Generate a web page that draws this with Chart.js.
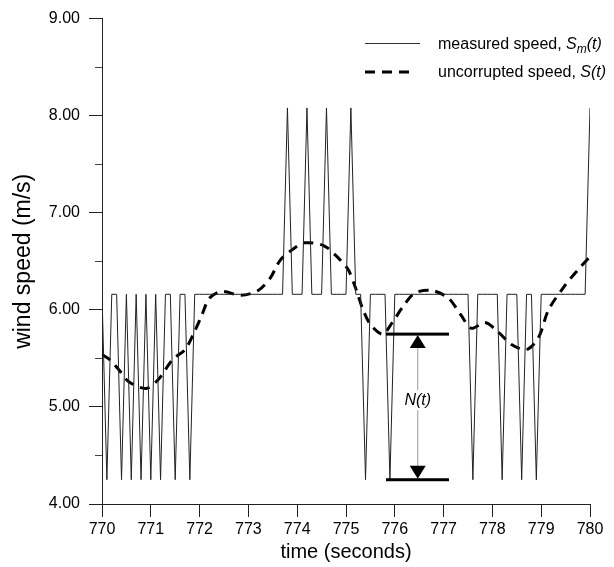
<!DOCTYPE html>
<html>

<head>
    <meta charset='utf-8'>
    <title>measured vs uncorrupted wind speed</title>
    <script src="https://cdn.jsdelivr.net/npm/chart.js@4.4.1/dist/chart.umd.min.js"></script>
    <style>
        body { margin: 0; background: #fff; }
    </style>
</head>

<body>
    <canvas id="myChart" width="614" height="567"></canvas>
    <script>
        // sample times (s), 0.1 s apart
        const times = [
            770.0, 770.1, 770.2, 770.3, 770.4, 770.5, 770.6, 770.7, 770.8, 770.9,
            771.0, 771.1, 771.2, 771.3, 771.4, 771.5, 771.6, 771.7, 771.8, 771.9,
            772.0, 772.1, 772.2, 772.3, 772.4, 772.5, 772.6, 772.7, 772.8, 772.9,
            773.0, 773.1, 773.2, 773.3, 773.4, 773.5, 773.6, 773.7, 773.8, 773.9,
            774.0, 774.1, 774.2, 774.3, 774.4, 774.5, 774.6, 774.7, 774.8, 774.9,
            775.0, 775.1, 775.2, 775.3, 775.4, 775.5, 775.6, 775.7, 775.8, 775.9,
            776.0, 776.1, 776.2, 776.3, 776.4, 776.5, 776.6, 776.7, 776.8, 776.9,
            777.0, 777.1, 777.2, 777.3, 777.4, 777.5, 777.6, 777.7, 777.8, 777.9,
            778.0, 778.1, 778.2, 778.3, 778.4, 778.5, 778.6, 778.7, 778.8, 778.9,
            779.0, 779.1, 779.2, 779.3, 779.4, 779.5, 779.6, 779.7, 779.8, 779.9,
            780.0
        ];
        // measured speed S_m(t), m/s
        const measuredSpeed = [
            6.16, 4.25, 6.16, 6.16, 4.25, 6.16, 4.25, 6.16, 4.25, 6.16,
            4.25, 6.16, 4.25, 6.16, 6.16, 4.25, 6.16, 6.16, 4.25, 6.16,
            6.16, 6.16, 6.16, 6.16, 6.16, 6.16, 6.16, 6.16, 6.16, 6.16,
            6.16, 6.16, 6.16, 6.16, 6.16, 6.16, 6.16, 6.16, 8.08, 6.16,
            6.16, 6.16, 8.08, 6.16, 6.16, 6.16, 8.08, 6.16, 6.16, 6.16,
            6.16, 8.08, 6.16, 6.16, 4.25, 6.16, 6.16, 6.16, 6.16, 4.25,
            6.16, 6.16, 6.16, 6.16, 6.16, 6.16, 6.16, 6.16, 6.16, 6.16,
            6.16, 6.16, 6.16, 6.16, 6.16, 6.16, 4.25, 6.16, 6.16, 6.16,
            6.16, 6.16, 4.25, 6.16, 6.16, 6.16, 4.25, 6.16, 6.16, 4.25,
            6.16, 6.16, 6.16, 6.16, 6.16, 6.16, 6.16, 6.16, 6.16, 6.16,
            8.08
        ];
        // uncorrupted speed S(t)
        const trueTimes = [
            770.0, 770.15, 770.35, 770.55, 770.9, 771.15, 771.45, 771.7, 771.9, 772.05,
            772.2, 772.45, 772.85, 773.2, 773.45, 773.65, 773.9, 774.15, 774.55, 774.85,
            775.05, 775.2, 775.35, 775.5, 775.75, 775.95, 776.15, 776.4, 776.75, 777.1,
            777.35, 777.57, 777.85, 778.1, 778.4, 778.7, 778.95, 779.15, 779.5, 779.75,
            780.0
        ];
        const trueSpeed = [
            5.54, 5.49, 5.38, 5.26, 5.19, 5.28, 5.49, 5.59, 5.78, 5.95,
            6.12, 6.19, 6.15, 6.20, 6.33, 6.51, 6.62, 6.69, 6.66, 6.53,
            6.41, 6.22, 6.00, 5.85, 5.75, 5.87, 6.02, 6.17, 6.20, 6.12,
            5.95, 5.81, 5.87, 5.78, 5.64, 5.59, 5.72, 6.00, 6.26, 6.41,
            6.55
        ];
        const minorYTicks = [4.5, 5.5, 6.5, 7.5, 8.5];

        // N(t) marker: bar span in time, levels in m/s
        const noiseSpan = [775.82, 777.11];
        const noiseLevels = [5.75, 4.25];
        const noiseArrowAt = 776.47;
        const noiseLabelAt = 5.07;

        const FONT = '"Liberation Sans", Arial, sans-serif';

        const extras = {
            id: 'extras',
            afterDraw(chart) {
                const { ctx, scales: { x, y } } = chart;
                ctx.save();

                // short minor ticks on the y axis
                ctx.strokeStyle = '#444';
                ctx.lineWidth = 1;
                minorYTicks.forEach(v => {
                    const py = Math.round(y.getPixelForValue(v)) + 0.5;
                    ctx.beginPath();
                    ctx.moveTo(x.left - 7, py);
                    ctx.lineTo(x.left, py);
                    ctx.stroke();
                });

                // N(t) bars and arrow
                const l = x.getPixelForValue(noiseSpan[0]);
                const r = x.getPixelForValue(noiseSpan[1]);
                const top = y.getPixelForValue(noiseLevels[0]);
                const bot = y.getPixelForValue(noiseLevels[1]);
                const ax = x.getPixelForValue(noiseArrowAt);
                ctx.strokeStyle = '#999';
                ctx.beginPath();
                ctx.moveTo(ax, top + 12);
                ctx.lineTo(ax, bot - 12);
                ctx.stroke();
                ctx.fillStyle = '#000';
                ctx.fillRect(l, top - 1.5, r - l, 3);
                ctx.fillRect(l, bot - 1.5, r - l, 3);
                ctx.beginPath();
                ctx.moveTo(ax, top + 1);
                ctx.lineTo(ax - 8, top + 14);
                ctx.lineTo(ax + 8, top + 14);
                ctx.closePath();
                ctx.fill();
                ctx.beginPath();
                ctx.moveTo(ax, bot - 1);
                ctx.lineTo(ax - 8, bot - 14);
                ctx.lineTo(ax + 8, bot - 14);
                ctx.closePath();
                ctx.fill();

                const ly = y.getPixelForValue(noiseLabelAt);
                ctx.font = 'italic 16px ' + FONT;
                ctx.textAlign = 'center';
                ctx.textBaseline = 'middle';
                const tw = ctx.measureText('N(t)').width;
                ctx.fillStyle = '#fff';
                ctx.fillRect(ax - tw / 2 - 2, ly - 10, tw + 4, 20);
                ctx.fillStyle = '#000';
                ctx.fillText('N(t)', ax, ly);

                // legend
                ctx.textAlign = 'left';
                ctx.strokeStyle = '#333';
                ctx.lineWidth = 1;
                ctx.beginPath();
                ctx.moveTo(365, 43.5);
                ctx.lineTo(420, 43.5);
                ctx.stroke();
                ctx.strokeStyle = '#000';
                ctx.lineWidth = 3;
                ctx.setLineDash([10, 7]);
                ctx.beginPath();
                ctx.moveTo(365, 72);
                ctx.lineTo(410, 72);
                ctx.stroke();
                ctx.setLineDash([]);

                let tx = 438;
                ctx.font = '16px ' + FONT;
                ctx.fillText('measured speed, ', tx, 45);
                tx += ctx.measureText('measured speed, ').width;
                ctx.font = 'italic 16px ' + FONT;
                ctx.fillText('S', tx, 45);
                tx += ctx.measureText('S').width;
                ctx.font = 'italic 12px ' + FONT;
                ctx.fillText('m', tx, 50);
                tx += ctx.measureText('m').width;
                ctx.font = 'italic 16px ' + FONT;
                ctx.fillText('(t)', tx, 45);

                tx = 438;
                ctx.font = '16px ' + FONT;
                ctx.fillText('uncorrupted speed, ', tx, 73);
                tx += ctx.measureText('uncorrupted speed, ').width;
                ctx.font = 'italic 16px ' + FONT;
                ctx.fillText('S(t)', tx, 73);

                ctx.restore();
            }
        };

        const ctx = document.getElementById('myChart').getContext('2d');
        const myChart = new Chart(ctx, {
            type: 'line',
            data: {
                datasets: [{
                        label: 'measured speed',
                        data: times.map((t, i) => ({ x: t, y: measuredSpeed[i] })),
                        borderColor: '#222',
                        borderWidth: 1,
                        pointRadius: 0,
                        tension: 0
                    },
                    {
                        label: 'uncorrupted speed',
                        data: trueTimes.map((t, i) => ({ x: t, y: trueSpeed[i] })),
                        borderColor: '#000',
                        borderWidth: 3,
                        borderDash: [10, 7],
                        pointRadius: 0,
                        tension: 0.3
                    }
                ]
            },
            options: {
                responsive: false,
                animation: false,
                devicePixelRatio: 1,
                layout: { padding: { top: 17, right: 24, left: 0, bottom: 0 } },
                plugins: {
                    legend: { display: false },
                    tooltip: { enabled: false }
                },
                scales: {
                    x: {
                        type: 'linear',
                        min: 770,
                        max: 780,
                        afterFit: s => { s.height = 63; },
                        border: { display: true, color: '#222', width: 1 },
                        grid: { drawOnChartArea: false, drawTicks: true, tickLength: 13, tickColor: '#222' },
                        ticks: {
                            stepSize: 1,
                            autoSkip: false,
                            maxRotation: 0,
                            padding: 3,
                            color: '#000',
                            font: { family: FONT, size: 16 },
                            callback: v => String(v)
                        },
                        title: {
                            display: true,
                            text: 'time (seconds)',
                            color: '#000',
                            font: { family: FONT, size: 20 },
                            padding: { top: 0, bottom: 3 }
                        }
                    },
                    y: {
                        min: 4,
                        max: 9,
                        afterFit: s => { s.width = 102; },
                        border: { display: true, color: '#222', width: 1 },
                        grid: { drawOnChartArea: false, drawTicks: true, tickLength: 13, tickColor: '#222' },
                        ticks: {
                            stepSize: 1,
                            padding: 9,
                            color: '#000',
                            font: { family: FONT, size: 16 },
                            callback: v => v.toFixed(2)
                        },
                        title: {
                            display: true,
                            text: 'wind speed (m/s)',
                            color: '#000',
                            font: { family: FONT, size: 23 },
                            padding: { top: 10, bottom: 0 }
                        }
                    }
                }
            },
            plugins: [extras]
        });
    </script>
</body>

</html>
